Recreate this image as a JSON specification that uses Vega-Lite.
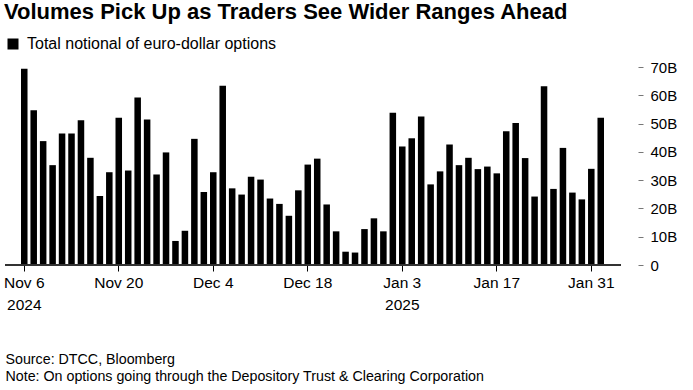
{
  "$schema": "https://vega.github.io/schema/vega-lite/v6.json",
  "width": 616,
  "height": 198,
  "autosize": {"type": "none"},
  "padding": {"left": 5, "top": 67, "right": 72, "bottom": 125},
  "background": "white",
  "config": {
    "view": {"stroke": null},
    "font": "Liberation Sans"
  },
  "title": {
    "text": "Volumes Pick Up as Traders See Wider Ranges Ahead",
    "anchor": "start",
    "frame": "group",
    "fontSize": 22,
    "fontWeight": "bold",
    "color": "#000000",
    "baseline": "alphabetic",
    "offset": -5,
    "dx": -1
  },
  "data": {
    "values": [
      {"date": "2024-11-06", "value": 69.4},
      {"date": "2024-11-07", "value": 54.7},
      {"date": "2024-11-08", "value": 43.8},
      {"date": "2024-11-11", "value": 35.3},
      {"date": "2024-11-12", "value": 46.5},
      {"date": "2024-11-13", "value": 46.5},
      {"date": "2024-11-14", "value": 51.2},
      {"date": "2024-11-15", "value": 37.9},
      {"date": "2024-11-18", "value": 24.4},
      {"date": "2024-11-19", "value": 32.8},
      {"date": "2024-11-20", "value": 52.1},
      {"date": "2024-11-21", "value": 33.4},
      {"date": "2024-11-22", "value": 59.2},
      {"date": "2024-11-25", "value": 51.4},
      {"date": "2024-11-26", "value": 32.0},
      {"date": "2024-11-27", "value": 39.8},
      {"date": "2024-11-28", "value": 8.5},
      {"date": "2024-11-29", "value": 12.1},
      {"date": "2024-12-02", "value": 44.6},
      {"date": "2024-12-03", "value": 25.8},
      {"date": "2024-12-04", "value": 32.8},
      {"date": "2024-12-05", "value": 63.4},
      {"date": "2024-12-06", "value": 27.1},
      {"date": "2024-12-09", "value": 24.9},
      {"date": "2024-12-10", "value": 31.2},
      {"date": "2024-12-11", "value": 30.2},
      {"date": "2024-12-12", "value": 23.5},
      {"date": "2024-12-13", "value": 21.6},
      {"date": "2024-12-16", "value": 17.4},
      {"date": "2024-12-17", "value": 26.4},
      {"date": "2024-12-18", "value": 35.5},
      {"date": "2024-12-19", "value": 37.6},
      {"date": "2024-12-20", "value": 21.4},
      {"date": "2024-12-23", "value": 11.9},
      {"date": "2024-12-24", "value": 4.7},
      {"date": "2024-12-26", "value": 4.4},
      {"date": "2024-12-27", "value": 12.7},
      {"date": "2024-12-30", "value": 16.5},
      {"date": "2024-12-31", "value": 11.9},
      {"date": "2025-01-02", "value": 53.8},
      {"date": "2025-01-03", "value": 41.9},
      {"date": "2025-01-06", "value": 44.8},
      {"date": "2025-01-07", "value": 52.5},
      {"date": "2025-01-08", "value": 28.5},
      {"date": "2025-01-09", "value": 33.1},
      {"date": "2025-01-10", "value": 42.6},
      {"date": "2025-01-13", "value": 35.3},
      {"date": "2025-01-14", "value": 37.9},
      {"date": "2025-01-15", "value": 33.9},
      {"date": "2025-01-16", "value": 34.8},
      {"date": "2025-01-17", "value": 32.4},
      {"date": "2025-01-20", "value": 47.3},
      {"date": "2025-01-21", "value": 50.2},
      {"date": "2025-01-22", "value": 37.8},
      {"date": "2025-01-23", "value": 24.2},
      {"date": "2025-01-24", "value": 63.2},
      {"date": "2025-01-27", "value": 26.9},
      {"date": "2025-01-28", "value": 41.4},
      {"date": "2025-01-29", "value": 25.6},
      {"date": "2025-01-30", "value": 23.2},
      {"date": "2025-01-31", "value": 34.0},
      {"date": "2025-02-03", "value": 52.1}
    ]
  },
  "resolve": {"axis": {"y": "independent"}},
  "layer": [
    {
      "mark": {"type": "bar", "color": "#000000"},
      "encoding": {
        "x": {
          "field": "date",
          "type": "ordinal",
          "scale": {"paddingInner": 0.31, "paddingOuter": 0, "range": [16, 599]},
          "axis": {
            "values": ["2024-11-06", "2024-11-20", "2024-12-04", "2024-12-18", "2025-01-03", "2025-01-17", "2025-01-31"],
            "labelExpr": "datum.value == '2024-11-06' ? ['Nov 6', '2024'] : datum.value == '2024-11-20' ? 'Nov 20' : datum.value == '2024-12-04' ? 'Dec 4' : datum.value == '2024-12-18' ? 'Dec 18' : datum.value == '2025-01-03' ? ['Jan 3', '2025'] : datum.value == '2025-01-17' ? 'Jan 17' : 'Jan 31'",
            "labelAngle": 0,
            "labelFontSize": 15.5,
            "labelColor": "#000000",
            "labelPadding": 4,
            "labelLineHeight": 22,
            "labelBaseline": "top",
            "tickSize": 6,
            "tickColor": "#000000",
            "domain": false,
            "title": ["Source: DTCC, Bloomberg", "Note: On options going through the Depository Trust & Clearing Corporation"],
            "titleFontSize": 14.25,
            "titleFontWeight": "normal",
            "titleColor": "#000000",
            "titleAlign": "left",
            "titleAnchor": "start",
            "titleBaseline": "alphabetic",
            "titleLineHeight": 17,
            "titleX": 0,
            "titleY": 98
          }
        },
        "y": {
          "field": "value",
          "type": "quantitative",
          "scale": {"domain": [0, 70], "nice": false},
          "axis": {
            "orient": "right",
            "values": [0, 10, 20, 30, 40, 50, 60, 70],
            "labelExpr": "datum.value == 0 ? '0' : datum.value + 'B'",
            "offset": 17,
            "domain": false,
            "grid": false,
            "tickSize": 5,
            "tickColor": "#777777",
            "labelPadding": 7,
            "labelFontSize": 15,
            "labelColor": "#000000",
            "labelOverlap": false,
            "title": null
          }
        },
        "color": {
          "datum": "Total notional of euro-dollar options",
          "type": "nominal",
          "scale": {"range": ["#000000"]},
          "legend": {
            "orient": "none",
            "legendX": 0,
            "legendY": -31,
            "title": null,
            "symbolType": "square",
            "symbolSize": 121,
            "symbolStrokeWidth": 0,
            "labelFontSize": 16,
            "labelColor": "#000000",
            "labelOffset": 6,
            "labelLimit": 500
          }
        }
      }
    },
    {
      "mark": {"type": "rule", "color": "#333333", "strokeWidth": 1},
      "encoding": {"y": {"datum": 0, "type": "quantitative", "axis": null}}
    }
  ]
}
